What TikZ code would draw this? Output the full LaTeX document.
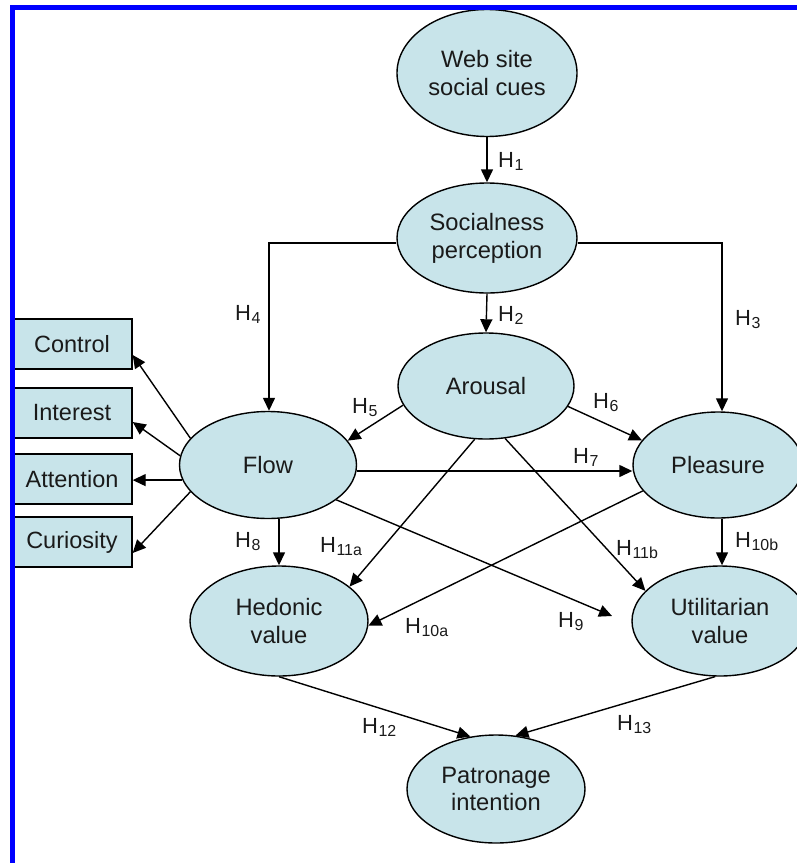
\documentclass[tikz,border=0pt]{standalone}
\usepackage{fontspec}
\setmainfont{Liberation Sans}
\usetikzlibrary{shapes.geometric,arrows.meta}
\definecolor{nodefill}{RGB}{200,228,234}
\definecolor{txt}{RGB}{26,26,26}
\newcommand{\hyp}[1]{H\kern0.5bp\raisebox{-3.5bp}{\fontsize{16}{16}\selectfont #1}}
\tikzset{
  oval/.style={ellipse, draw=black, line width=1.4bp, fill=nodefill, inner sep=0pt,
    align=center, text=txt, font=\fontsize{23.8}{28}\selectfont},
  facet/.style={rectangle, draw=black, line width=1.4bp, fill=nodefill, inner sep=0pt,
    minimum width=120bp, minimum height=50bp, text=txt, font=\fontsize{23.6}{28}\selectfont},
  link/.style={line width=1.4bp, draw=black, -{Triangle[length=13bp,width=12bp]}},
  hlab/.style={anchor=base west, inner sep=0pt, text=txt, font=\fontsize{22}{24}\selectfont},
}
\begin{document}
\begin{tikzpicture}[x=1bp,y=-1bp]
\useasboundingbox (0,0) rectangle (797,863);
\clip (0,0) rectangle (797,863);
% ellipses
\node[oval, minimum width=180bp, minimum height=127bp] (web) at (487,73) {Web site\\social cues};
\node[oval, minimum width=180bp, minimum height=110bp] (soc) at (487,238) {Socialness\\perception};
\node[oval, minimum width=176bp, minimum height=106bp] (aro) at (486,386) {Arousal};
\node[oval, minimum width=177bp, minimum height=107bp] (flow) at (268,465) {Flow};
\node[oval, minimum width=170bp, minimum height=106bp] (plea) at (718,465) {Pleasure};
\node[oval, minimum width=178bp, minimum height=110bp] (hed) at (279,621) {Hedonic\\value};
\node[oval, minimum width=176bp, minimum height=110bp] (util) at (720,621) {Utilitarian\\value};
\node[oval, minimum width=178bp, minimum height=108bp] (pat) at (496,789) {Patronage\\intention};
% boxes
\node[facet] (ctrl) at (72,344) {Control};
\node[facet] (intr) at (72,413) {Interest};
\node[facet] (attn) at (72,479) {Attention};
\node[facet] (curi) at (72,542) {Curiosity};
\coordinate (h9end) at (612,616);
% connectors
\draw[link] (web.south) -- (soc.north);
\draw[link] (soc.south) -- (aro.north);
\draw[link] ([yshift=-5bp]soc.west) -| ([xshift=1bp]flow.north);
\draw[link] ([yshift=-5bp]soc.east) -| ([xshift=4bp]plea.north);
\draw[link] (aro.193.4) -- (flow.17.4);
\draw[link] (aro.-14) -- (plea.162);
\draw[link] ([yshift=-6bp]flow.east) -- ([yshift=-6bp]plea.west);
\draw[link] (aro.258.5) -- (hed.26.2);
\draw[link] (aro.290.3) -- (util.158.9);
\draw[link] (flow.333.4) -- (h9end);
\draw[link] (plea.199.6) -- (hed.357.5);
\draw[link] ([xshift=4bp]plea.south) -- ([xshift=4bp]plea.south |- util.north);
\draw[link] (hed.north |- flow.south) -- (hed.north);
\draw[link] (hed.south) -- (pat.116.6);
\draw[link] (util.265) -- (pat.70.6);
\draw[link] (flow.161.3) -- ([yshift=-11bp]ctrl.east);
\draw[link] (flow.174.8) -- ([yshift=-9bp]intr.east);
\draw[link] (flow.190) -- (attn.east |- flow.190);
\draw[link] (flow.199) -- ([yshift=-11bp]curi.east);
% labels
\node[hlab] (l1) at (498,167) {\hyp{1}};
\node[hlab] (l2) at (498,321) {\hyp{2}};
\node[hlab] (l3) at (735,325) {\hyp{3}};
\node[hlab] (l4) at (235,320) {\hyp{4}};
\node[hlab] (l5) at (352,413) {\hyp{5}};
\node[hlab] (l6) at (593,408) {\hyp{6}};
\node[hlab] (l7) at (573,463) {\hyp{7}};
\node[hlab] (l8) at (235,547) {\hyp{8}};
\node[hlab] (l11a) at (320,552) {\hyp{11a}};
\node[hlab] (l11b) at (616,555) {\hyp{11b}};
\node[hlab] (l10b) at (735,547) {\hyp{10b}};
\node[hlab] (l9) at (558,627) {\hyp{9}};
\node[hlab] (l10a) at (405,633) {\hyp{10a}};
\node[hlab] (l12) at (362,733) {\hyp{12}};
\node[hlab] (l13) at (617,730) {\hyp{13}};
% blue frame
\fill[blue] (10,5) rectangle (797,10);
\fill[blue] (10,5) rectangle (15,863);
\end{tikzpicture}
\end{document}
